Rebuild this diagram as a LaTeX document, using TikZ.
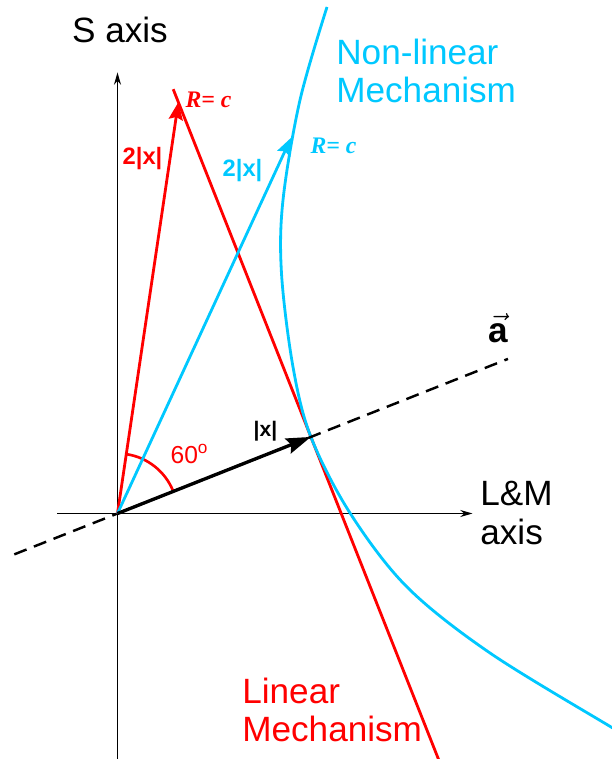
\documentclass[tikz,border=0pt]{standalone}
\usepackage{xcolor}
\usepackage{fontspec}
\setmainfont{Liberation Sans}
\newfontfamily\rcfont{Liberation Serif}
\usepackage{tikz}
\usetikzlibrary{arrows.meta}
\definecolor{linred}{RGB}{255,0,0}
\definecolor{nlcyan}{RGB}{0,200,255}
\tikzset{
  axisline/.style={line width=0.6pt,-{Stealth[length=7pt,width=4pt]}},
  bigvec/.style={line width=1.6pt,-{Stealth[length=10pt,width=8pt,inset=1.5pt]}},
  biglabel/.style={font=\fontsize{20}{22}\selectfont,align=left,inner sep=0pt},
  smalllabel/.style={font=\bfseries\fontsize{13.5}{13.5}\selectfont,inner sep=0pt},
  rclabel/.style={font=\rcfont\bfseries\itshape\fontsize{13.5}{13.5}\selectfont,inner sep=0pt},
}

\begin{document}
\begin{tikzpicture}[x=0.02cm,y=0.02cm]
\useasboundingbox (-117.5,-245.5) rectangle (493.5,513.5);
% axes
\coordinate (O) at (0,0);
\coordinate (Hs) at (-60,0);
\coordinate (He) at (355,0);
\coordinate (Vs) at (0,-246);
\coordinate (Ve) at (0,441);
\draw[axisline] (Hs) -- (He);
\draw[axisline] (Vs) -- (Ve);
% points
\coordinate (X) at (21.6:208);
\coordinate (Dl) at (201.6:111);
\coordinate (Dr) at (21.6:420);
\coordinate (Ctip) at (65.2:414);
\path (X) ++(111.6:360) coordinate (Rtip);
\path (X) ++(111.6:374) coordinate (Ltop);
\path (X) ++(-68.4:350) coordinate (Lbot);
\path (O) ++(21.6:60) coordinate (Abeg);
% linear and non-linear mechanism
\draw[linred, line width=1.6pt] (Ltop) -- (Lbot);
\draw[nlcyan, line width=1.6pt] plot[smooth, tension=0.55] coordinates {(209.5,506.5) (182.5,413.5) (165.5,313.5) (164,240) (175.5,146.5) (X) (232.5,0.5) (289.5,-73.5) (372.5,-139.5) (493.5,-213.5) (505,-220)};
\draw[linred, line width=1.5pt] (Abeg) arc[start angle=21.6, end angle=81.6, radius=60];
% vectors
\draw[line width=1.4pt, dash pattern=on 7.5pt off 4.5pt] (Dl) -- (Dr);
\draw[bigvec, linred] (O) -- (Rtip);
\draw[bigvec, nlcyan] (O) -- (Ctip);
\draw[line width=1.9pt, -{Stealth[length=14pt,width=9pt,inset=2pt]}] (O) -- (X);
% labels
\node[biglabel] (saxis) at (2.5,484) {S axis};
\node[biglabel, anchor=west] (lmaxis) at (362.5,0.5) {L\&M\\axis};
\node[biglabel, anchor=west, text=nlcyan] (nonlin) at (218.5,442.5) {Non-linear\\Mechanism};
\node[biglabel, anchor=west, text=linred] (lin) at (124.5,-196.5) {Linear\\Mechanism};
\node[smalllabel, text=linred] (twoxr) at (25,355) {2|x|};
\node[smalllabel, text=nlcyan] (twoxc) at (125,343) {2|x|};
\node[rclabel, text=linred] (rcr) at (91,414) {R= c};
\node[rclabel, text=nlcyan] (rcc) at (216,368) {R= c};
\node[smalllabel, font=\bfseries\fontsize{12}{12}\selectfont] (xlab) at (148,82) {|x|};
\node[inner sep=0pt, text=linred, font=\fontsize{14}{14}\selectfont] (ang) at (72,59.5) {60\textsuperscript{o}};
\node[inner sep=0pt, font=\bfseries\fontsize{20}{20}\selectfont] (avec) at (381,185) {$\vec{\mbox{a}}$};
\end{tikzpicture}
\end{document}
